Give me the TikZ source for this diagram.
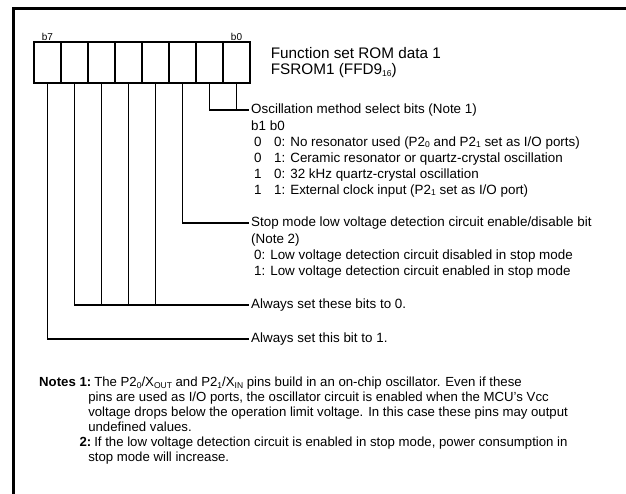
\documentclass[tikz,border=0pt]{standalone}
\usepackage{fontspec}
\setmainfont{Liberation Sans}
\usetikzlibrary{positioning}

\newcommand{\lo}[1]{\raisebox{-0.2ex}{\fontsize{8.5}{8.5}\selectfont #1}}
\newcommand{\selrow}[2]{\hspace*{3pt}\makebox[20pt][l]{#1}#2: }

\begin{document}
\begin{tikzpicture}[
  x=1pt, y=-1pt,
  cell/.style={draw, line width=1.3pt, minimum width=27pt, minimum height=41pt, inner sep=0pt},
  bitno/.style={font=\fontsize{10}{12}\selectfont, inner sep=1pt},
  title/.style={font=\fontsize{15.3}{16}\selectfont, align=left, inner sep=0pt},
  desc/.style={font=\fontsize{13.4}{16}\selectfont, align=left, inner sep=2pt},
  note/.style={font=\fontsize{13.2}{15}\selectfont, inner sep=0pt},
  wire/.style={line width=1.3pt}
]
\useasboundingbox (0,0) rectangle (626,494);
% frame
\draw[line width=3pt] (13,494) -- (13,8.3) -- (626,8.3);

% register b7 ... b0
\foreach \b [count=\k from 0] in {7,6,...,0}
  \node[cell] (bit\b) at (47.5+27*\k, 62.5) {};
\node[bitno, above=0pt of bit7] (lb7) {b7};
\node[bitno, above=0pt of bit0] (lb0) {b0};
\node[title, right=20pt of bit0] (romname) {Function set ROM data 1\\FSROM1 (FFD9\lo{16})};

% bit descriptions
\node[desc, anchor=west] (osc) at (249,110) {Oscillation method select bits (Note 1)};
\node[desc, anchor=north west] (osclist) at (osc.south west) {b1 b0\\
  \selrow{0}{0}No resonator used (P2\lo{0} and P2\lo{1} set as I/O ports)\\
  \selrow{0}{1}Ceramic resonator or quartz-crystal oscillation\\
  \selrow{1}{0}32 kHz quartz-crystal oscillation\\
  \selrow{1}{1}External clock input (P2\lo{1} set as I/O port)};
\node[desc, anchor=west] (stop) at (249,223) {Stop mode low voltage detection circuit enable/disable bit};
\node[desc, anchor=north west] (stoplist) at (stop.south west) {(Note 2)\\
  \hspace*{3pt}0: Low voltage detection circuit disabled in stop mode\\
  \hspace*{3pt}1: Low voltage detection circuit enabled in stop mode};
\node[desc, anchor=west] (zero) at (249,305) {Always set these bits to 0.};
\node[desc, anchor=west] (one) at (249,339) {Always set this bit to 1.};

% connectors
\draw[wire] (bit1.south) |- (osc.west);
\draw[wire] (bit0.south) -- (bit0.south |- osc.west);
\draw[wire] (bit2.south) |- (stop.west);
\draw[wire] (bit6.south) |- (zero.west);
\foreach \b in {5,4,3}
  \draw[wire] (bit\b.south) -- (bit\b.south |- zero.west);
\draw[wire] (bit7.south) |- (one.west);

% notes
\node[note, anchor=north west] (notes) at (39,376) {%
  \begin{tabular}{@{}r@{\hspace{3pt}}l@{}}
  \textbf{Notes 1:} & The P2\lo{0}/X\lo{OUT} and P2\lo{1}/X\lo{IN} pins build in an on-chip oscillator. Even if these\\
   & \hspace*{-6pt}pins are used as I/O ports, the oscillator circuit is enabled when the MCU’s Vcc\\
   & \hspace*{-6pt}voltage drops below the operation limit voltage. In this case these pins may output\\
   & \hspace*{-6pt}undefined values.\\
  \textbf{2:} & If the low voltage detection circuit is enabled in stop mode, power consumption in\\
   & \hspace*{-6pt}stop mode will increase.
  \end{tabular}};
\end{tikzpicture}
\end{document}
